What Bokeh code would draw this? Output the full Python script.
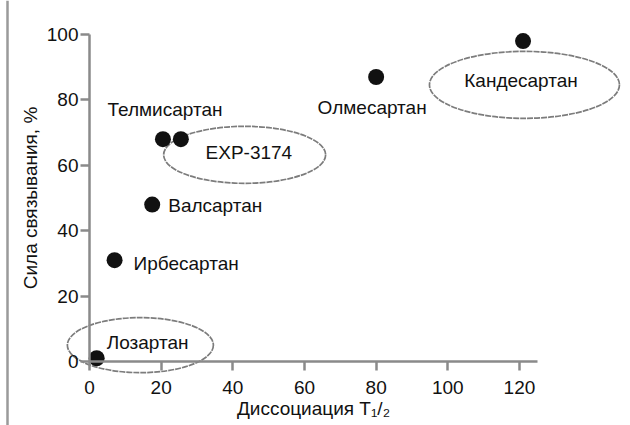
from bokeh.plotting import figure
from bokeh.models import Range1d, FixedTicker, ColumnDataSource, Span
from bokeh.core.properties import value
from bokeh.embed import file_html
from bokeh.resources import INLINE

# ---- data ----
drugs = ["Лозартан", "Ирбесартан", "Валсартан", "Телмисартан", "EXP-3174", "Олмесартан", "Кандесартан"]
t_half = [2, 7, 17.5, 20.5, 25.5, 80, 121]          # Диссоциация T1/2
binding = [1, 31, 48, 68, 68, 87, 98]                 # Сила связывания, %

x_ticks = [0, 20, 40, 60, 80, 100, 120]
y_ticks = [0, 20, 40, 60, 80, 100]

# grouping ellipses (annotations): centre in data units
group_names = ["Лозартан", "EXP-3174", "Кандесартан"]
group_x = [14.2, 43.3, 121.4]
group_y = [5.0, 63.2, 84.6]

# ---- layout / style (pixels) ----
W, H = 630, 425
X0_PX, XPU = 89, 3.583      # pixel of x=0, pixels per x unit
Y0_PX, YPU = 361, 3.27      # pixel of y=0, pixels per y unit
label_dx = [10, 19, 16, 2, 68, -4, -2]
label_dy = [-16, 3, 1, -30, 13, 30, 39]
label_align = ["left", "left", "left", "center", "center", "center", "center"]
group_w = [146, 162, 190]
group_h = [55, 57, 67]

FONT = "Liberation Sans"
GREY = "#8a8a8a"
FS = "19px"

x_start = -X0_PX / XPU
x_end = (W - X0_PX) / XPU
y_end = Y0_PX / YPU
y_start = -(H - Y0_PX) / YPU

p = figure(width=W, height=H,
           x_range=Range1d(x_start, x_end), y_range=Range1d(y_start, y_end),
           min_border=0, output_backend="svg", toolbar_location=None)
p.outline_line_color = None
p.xgrid.visible = False
p.ygrid.visible = False
p.background_fill_color = "white"
p.border_fill_color = "white"

# grey frame line at the left edge of the picture
p.add_layout(Span(location=x_start + 7 / XPU, dimension="height",
                  line_color="#9a9a9a", line_width=2.5))

# ellipses around groups
gsrc = ColumnDataSource(dict(x=group_x, y=group_y, w=group_w, h=group_h, name=group_names))
p.ellipse(x="x", y="y", width="w", height="h", width_units="screen", height_units="screen",
          source=gsrc, fill_color=None, line_color="#7c7c7c", line_width=1.7, line_dash="6 1")

# points
src = ColumnDataSource(dict(x=t_half, y=binding, name=drugs,
                            dx=label_dx, dy=label_dy, align=label_align))
p.scatter(x="x", y="y", source=src, size=16, fill_color="#111111", line_color=None)

# labels
p.text(x="x", y="y", text="name", source=src, x_offset="dx", y_offset="dy",
       text_align="align", text_baseline="middle",
       text_font=value(FONT), text_font_size=FS, text_color="#111111")

# axes (fixed at 0, drawn inside the frame)
for ax in (p.xaxis[0], p.yaxis[0]):
    ax.fixed_location = 0
    ax.axis_line_color = GREY
    ax.axis_line_width = 2.5
    ax.major_tick_line_color = GREY
    ax.major_tick_line_width = 2.5
    ax.major_tick_out = 9
    ax.major_tick_in = 0
    ax.minor_tick_line_color = None
    ax.major_label_text_font = FONT
    ax.major_label_text_font_size = FS
    ax.major_label_text_color = "#111111"
    ax.axis_label_text_font = FONT
    ax.axis_label_text_font_size = FS
    ax.axis_label_text_font_style = "normal"
    ax.axis_label_text_color = "#111111"

p.xaxis.ticker = FixedTicker(ticks=x_ticks)
p.yaxis.ticker = FixedTicker(ticks=y_ticks)
p.xaxis.bounds = (0, 125)
p.yaxis.bounds = (0, 100)
p.xaxis.major_label_standoff = 10
p.yaxis.major_label_standoff = 2
p.xaxis.axis_label = "Диссоциация T₁/₂"
p.yaxis.axis_label = "Сила связывания, %"
p.xaxis.axis_label_standoff = 1
p.yaxis.axis_label_standoff = 3

open("out.html", "w").write(file_html(p, INLINE))
